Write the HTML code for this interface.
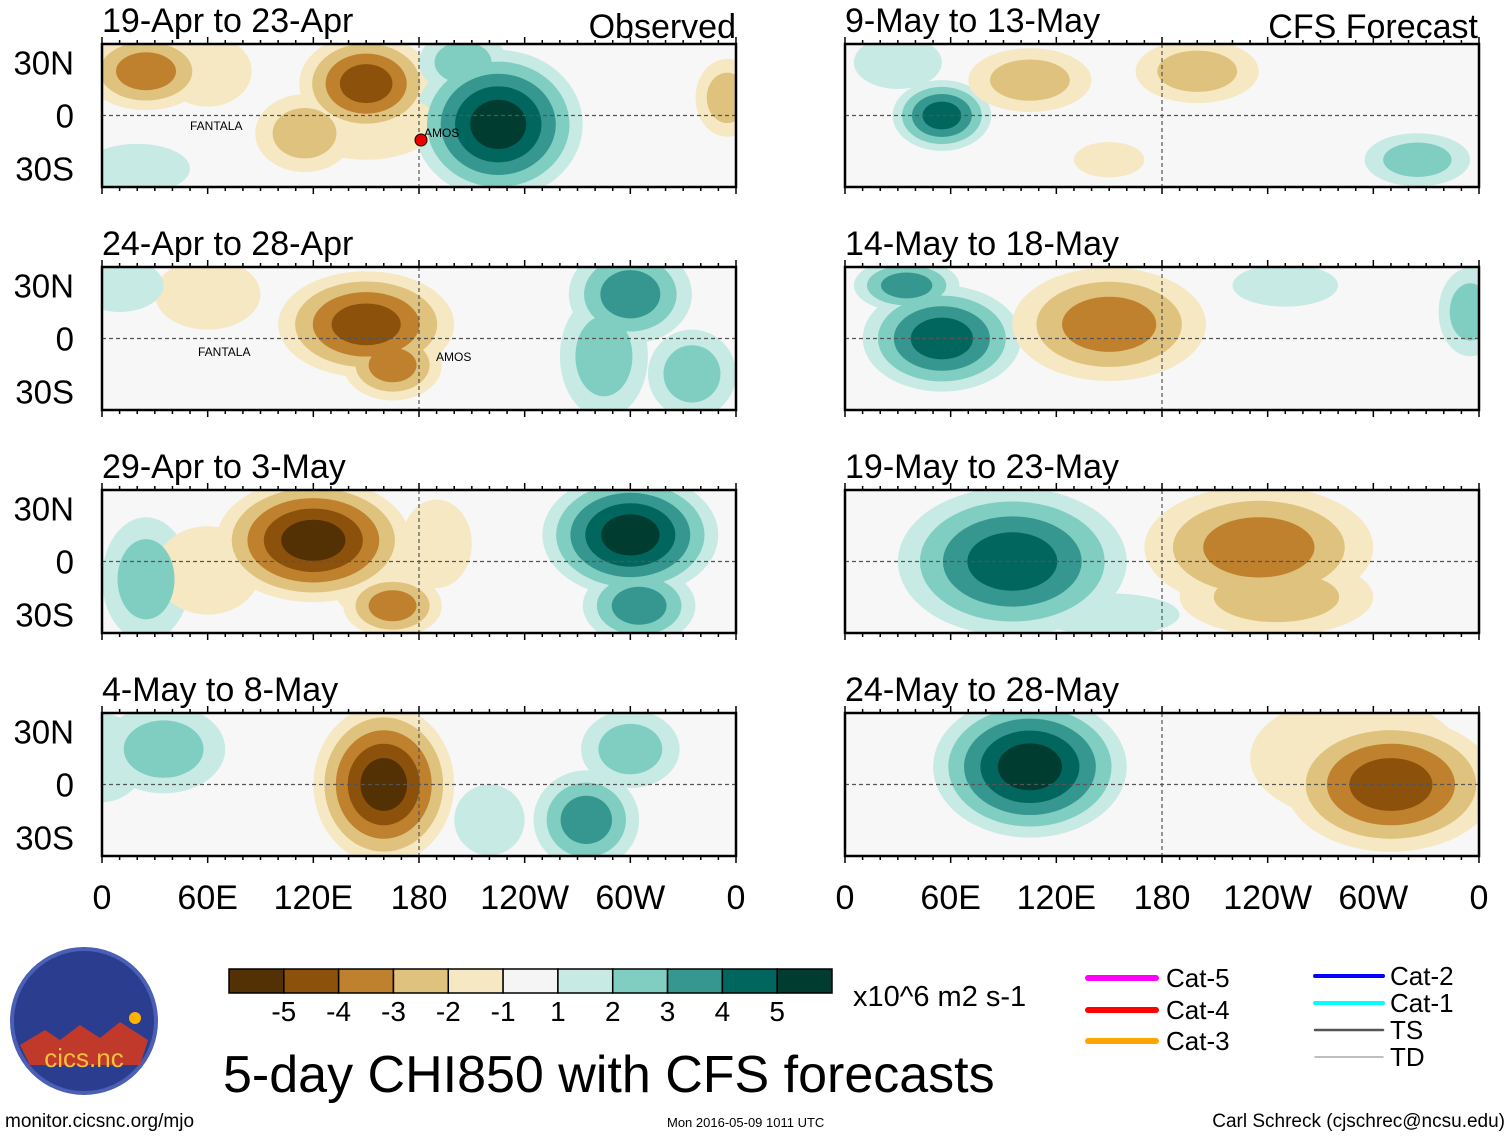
<!DOCTYPE html>
<html><head><meta charset="utf-8"><style>
body{margin:0;background:#fff;}
svg text{font-family:"Liberation Sans",sans-serif;}
</style></head><body>
<svg id="chart" width="1510" height="1137" xmlns="http://www.w3.org/2000/svg"></svg>
<script>
const panelTitles=["19-Apr to 23-Apr","24-Apr to 28-Apr","29-Apr to 3-May","4-May to 8-May","9-May to 13-May","14-May to 18-May","19-May to 23-May","24-May to 28-May"];
// blob data per panel: lon (deg E), lat, lon radius, lat radius, peak value
const blobPanel=[0,0,0,0,0,0,0,0,0, 1,1,1,1,1,1,1, 2,2,2,2,2,2,2,2, 3,3,3,3,3,3, 4,4,4,4,4,4, 5,5,5,5,5, 6,6,6,6, 7,7,7];
const blobLon=[25,150,115,225,205,355,20,60,150, 150,165,300,285,335,60,10, 120,165,300,305,25,190,60,160, 160,35,275,300,0,220, 55,105,200,325,150,30, 55,35,150,355,250, 95,235,245,150, 105,310,290];
const blobLat=[25,18,-10,-5,30,10,-30,25,-5, 8,-15,25,-10,-20,25,30, 12,-25,15,-25,-10,10,-5,-10, 0,20,-20,20,15,-20, 0,20,25,-25,-25,30, 0,30,8,15,30, 0,8,-20,-30, 10,0,15];
const blobRx=[35,38,28,48,25,18,30,25,40, 50,28,35,25,25,30,25, 55,28,50,32,25,20,30,30, 40,35,30,28,25,20, 28,35,35,30,20,25, 45,30,55,18,30, 65,65,55,40, 55,60,60];
const blobRy=[22,28,22,42,18,22,14,20,20, 30,20,28,35,25,20,15, 35,18,35,22,35,25,25,25, 45,25,28,22,25,20, 20,18,18,15,10,15, 30,15,32,25,12, 42,35,22,12, 40,38,35];
const blobVal=[-3,-4,-2,5,2,-2,1,-1,-1, -4,-3,3,2,2,-1,1, -5,-3,5,3,2,-1,-1,-1, -5,2,3,2,1,1, 4,-2,-2,2,-1,1, 4,3,-3,2,1, 4,-3,-2,1, 5,-4,-1];
const tickLabels=["0","60E","120E","180","120W","60W","0"];
const latLabels=["30N","0","30S"];
const cbLabels=["-5","-4","-3","-2","-1","1","2","3","4","5"];
const cbColors=["#543005","#8c510a","#bf812d","#dfc27d","#f6e8c3","#f5f5f5","#c7eae5","#80cdc1","#35978f","#01665e","#003c30"];

const svg=document.getElementById('chart');
const NS="http://www.w3.org/2000/svg";
function mk(tag,attrs,parent){const e=document.createElementNS(NS,tag);for(const k in attrs)e.setAttribute(k,attrs[k]);(parent||svg).appendChild(e);return e;}
const panelX0=[102,845], panelW=634, panelY0=[44,267,490,713], panelH=143;
function px(p){return panelX0[p<4?0:1];}
function py(p){return panelY0[p%4];}
function xScale(p,lon){return px(p)+lon/360*panelW;}
function yScale(p,lat){return py(p)+panelH/2-lat*1.77;}
function colorFor(level,sign){return sign>0?cbColors[5+level]:cbColors[5-level];}

for(let p=0;p<8;p++){
  const x0=px(p),y0=py(p);
  const clip=mk('clipPath',{id:'clip'+p});
  mk('rect',{x:x0,y:y0,width:panelW,height:panelH},clip);
  const g=mk('g',{'clip-path':'url(#clip'+p+')'});
  
  
  mk('rect',{x:x0,y:y0,width:panelW,height:panelH,fill:'#f7f7f7'},g);
  for(let lv=1;lv<=5;lv++){
    for(let i=0;i<blobPanel.length;i++){
      if(blobPanel[i]!==p)continue;
      const v=blobVal[i],n=Math.abs(v),s=Math.sign(v);
      if(lv>n)continue;
      const f=Math.pow(1-(lv-1)/(n+0.5),0.85);
      const e=mk('ellipse',{cx:xScale(p,blobLon[i]),cy:yScale(p,blobLat[i]),rx:blobRx[i]*1.76*f,ry:blobRy[i]*1.77*f,fill:colorFor(lv,s)},g);
      
      
    }
  }
  mk('line',{x1:x0,x2:x0+panelW,y1:yScale(p,0),y2:yScale(p,0),stroke:'#555','stroke-dasharray':'4,3','stroke-width':1.2});
  mk('line',{x1:xScale(p,180),x2:xScale(p,180),y1:y0,y2:y0+panelH,stroke:'#555','stroke-dasharray':'4,3','stroke-width':1.2});
  mk('rect',{x:x0,y:y0,width:panelW,height:panelH,fill:'none',stroke:'#000','stroke-width':2.5});
  for(let d=0;d<=360;d+=10){
    const x=xScale(p,d),L=d%60===0?7:4;
    mk('line',{x1:x,x2:x,y1:y0,y2:y0-L,stroke:'#000','stroke-width':1.5});
    mk('line',{x1:x,x2:x,y1:y0+panelH,y2:y0+panelH+L,stroke:'#000','stroke-width':1.5});
  }
  const t=mk('text',{x:x0,y:y0-12,'font-size':34});t.textContent=panelTitles[p];
  
  
  if(p<4){
    latLabels.forEach((l,k)=>{const tt=mk('text',{x:74,y:yScale(p,30-30*k)+12,'font-size':33,'text-anchor':'end'});tt.textContent=l;
      
      });
  }
  if(p%4===3){
    tickLabels.forEach((l,k)=>{const tt=mk('text',{x:xScale(p,k*60),y:909,'font-size':34,'text-anchor':'middle'});tt.textContent=l;
      
      });
  }
}
let tx=mk('text',{x:736,y:38,'font-size':34,'text-anchor':'end'});tx.textContent="Observed";
let tx2=mk('text',{x:1478,y:38,'font-size':34,'text-anchor':'end'});tx2.textContent="CFS Forecast";
[["FANTALA",190,130],["AMOS",424,137],["FANTALA",198,356],["AMOS",436,361]].forEach(a=>{const t=mk('text',{x:a[1],y:a[2],'font-size':12});t.textContent=a[0];
  
  });
mk('circle',{cx:421,cy:140,r:6,fill:'#e00',stroke:'#000'});
const cbX=229,cbW=603/11;
cbColors.forEach((c,i)=>{const r=mk('rect',{x:cbX+i*cbW,y:969,width:cbW,height:24,fill:c,stroke:'#000','stroke-width':1.5});
  
  });
cbLabels.forEach((l,i)=>{const t=mk('text',{x:cbX+(i+1)*cbW,y:1021,'font-size':28,'text-anchor':'middle'});t.textContent=l;
  
  });
let u=mk('text',{x:853,y:1006,'font-size':29});u.textContent="x10^6 m2 s-1";
let ti=mk('text',{x:223,y:1092,'font-size':52});ti.textContent="5-day CHI850 with CFS forecasts";

[["Cat-5","#ff00ff",1088,978],["Cat-4","#ff0000",1088,1010],["Cat-3","#ffa500",1088,1041],["Cat-2","#0000ff",1315,976],["Cat-1","#00ffff",1315,1003],["TS","#555",1315,1030],["TD","#aaa",1315,1057]].forEach((a,i)=>{
  const w=i<3?6:(i<5?4:(i===5?2.5:1.5));
  mk('line',{x1:a[2],x2:a[2]+68,y1:a[3],y2:a[3],stroke:a[1],'stroke-width':w,'stroke-linecap':'round'});
  const t=mk('text',{x:a[2]+(i<3?78:75),y:a[3]+9,'font-size':26});t.textContent=a[0];
  
  
});
mk('circle',{cx:84,cy:1021,r:72,fill:'#2b3d8f'});
mk('circle',{cx:84,cy:1021,r:72,fill:'none',stroke:'#4a5fb5','stroke-width':4});
mk('path',{d:'M20,1045 L45,1030 L60,1040 L80,1025 L100,1038 L120,1022 L148,1040 L140,1065 L30,1065 Z',fill:'#c0392b'});
mk('circle',{cx:135,cy:1018,r:6,fill:'#ffb400'});
let lg=mk('text',{x:84,y:1067,'font-size':26,'text-anchor':'middle',fill:'#f0c040'});lg.textContent="cics.nc";
let b1=mk('text',{x:5,y:1127,'font-size':19});b1.textContent="monitor.cicsnc.org/mjo";
let b2=mk('text',{x:667,y:1127,'font-size':13});b2.textContent="Mon 2016-05-09 1011 UTC";
let b3=mk('text',{x:1505,y:1127,'font-size':19,'text-anchor':'end'});b3.textContent="Carl Schreck (cjschrec@ncsu.edu)";
</script>
</body></html>
